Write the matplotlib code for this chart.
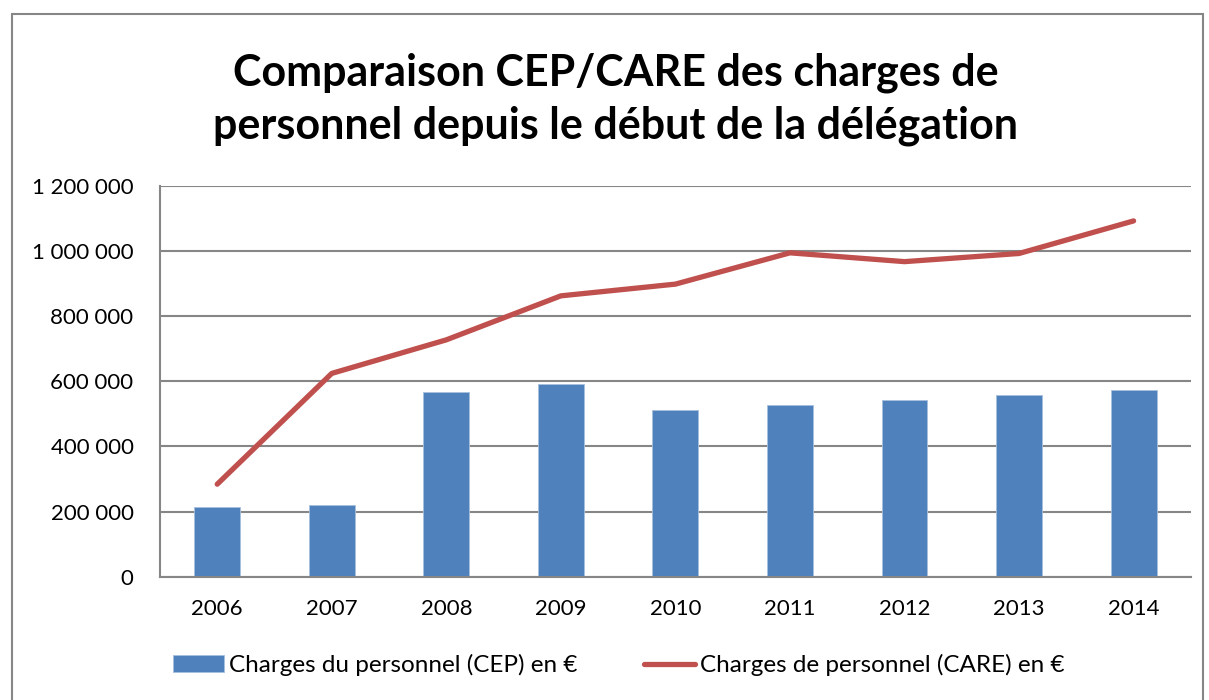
import numpy as np
import matplotlib
matplotlib.use('Agg')
import matplotlib.pyplot as plt
from matplotlib.patches import Rectangle
from matplotlib.ticker import FuncFormatter

plt.rcParams['font.family'] = ['Lato', 'DejaVu Sans']

# données
years = ['2006', '2007', '2008', '2009', '2010', '2011', '2012', '2013', '2014']
cep = [213000, 220000, 566000, 592000, 511000, 526000, 541000, 558000, 574000]
care = [284000, 624000, 727000, 862000, 898000, 994000, 967000, 992000, 1092000]

title = 'Comparaison CEP/CARE des charges de\npersonnel depuis le début de la délégation'
label_cep = 'Charges du personnel (CEP) en €'
label_care = 'Charges de personnel (CARE) en €'

fig = plt.figure(figsize=(12.09, 7.0), dpi=100)
ax = fig.add_axes([0.1323, 0.1761, 0.8527, 0.5586])

x = np.arange(len(years))
bars = ax.bar(x, cep, width=0.4, color='#4F81BD', edgecolor='#A7C0DE', linewidth=0.6,
              label=label_cep, zorder=2)
line, = ax.plot(x, care, color='#C0504D', linewidth=3.8, solid_capstyle='round',
                label=label_care, zorder=3)

ax.set_xlim(-0.5, len(years) - 0.5)
ax.set_ylim(0, 1200000)
ax.set_yticks(np.arange(0, 1200001, 200000))
ax.yaxis.set_major_formatter(FuncFormatter(lambda v, p: f'{int(v):,}'.replace(',', ' ')))
ax.set_xticks(x)
ax.set_xticklabels(years)
ax.grid(axis='y', color='#868686', linewidth=1.5, zorder=0)
ax.set_axisbelow(True)

for s in ['top', 'right']:
    ax.spines[s].set_visible(False)
for s in ['left', 'bottom']:
    ax.spines[s].set_color('#868686')
    ax.spines[s].set_linewidth(1.5)
ax.tick_params(axis='y', length=0, pad=19, labelsize=16)
ax.tick_params(axis='x', length=0, pad=16, labelsize=16)

fig.text(0.509, 0.858, title, ha='center', va='center', fontsize=31,
         fontweight='bold', linespacing=1.4)

fig.legend([bars, line], [label_cep, label_care], loc='center',
           bbox_to_anchor=(0.512, 0.05), ncol=2, frameon=False,
           fontsize=17.5, handlelength=2.1, handletextpad=0.2, columnspacing=2.75)

# cadre du graphique
fig.patches.append(Rectangle((12 / 1209, -0.05), 1191 / 1209, 1.05 - 14 / 700,
                             transform=fig.transFigure, fill=False,
                             edgecolor='#868686', linewidth=1.5))

fig.savefig('out.png', dpi=100)
